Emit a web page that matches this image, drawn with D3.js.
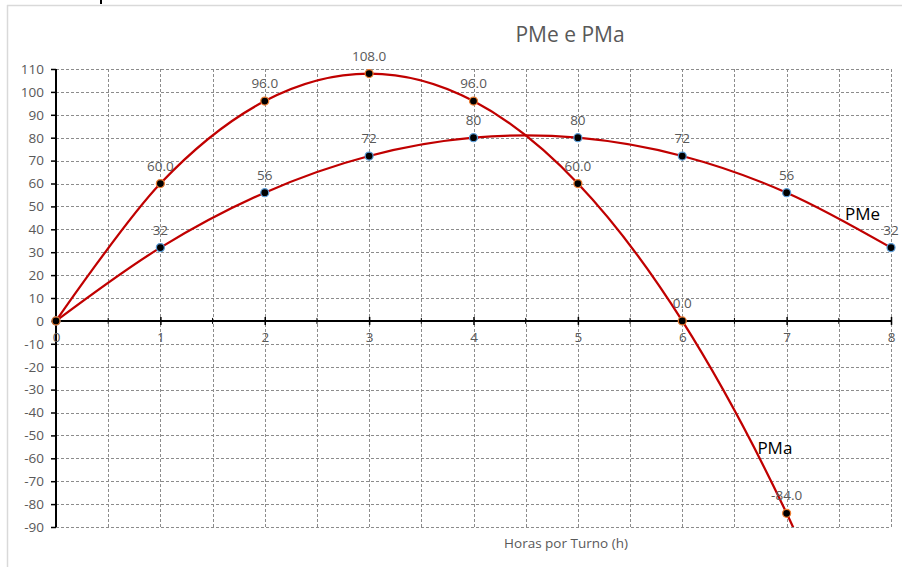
<!DOCTYPE html>
<html>
<head>
<meta charset="utf-8">
<script src="https://cdn.jsdelivr.net/npm/d3@7"></script>
<style>
  body { margin: 0; background: #fff; }
  text { font-family: "Open Sans", "Noto Sans", sans-serif; }
</style>
</head>
<body>
<div id="chart"></div>
<script>
// data
const horas = [0, 1, 2, 3, 4, 5, 6, 7, 8];
const pme = [0, 32, 56, 72, 80, 80, 72, 56, 32];
const pma = [0, 60, 96, 108, 96, 60, 0, -84, -192];
const yTicks = [110, 100, 90, 80, 70, 60, 50, 40, 30, 20, 10, 0, -10, -20, -30, -40, -50, -60, -70, -80, -90];
const xTicks = [0, 1, 2, 3, 4, 5, 6, 7, 8];

const W = 902, H = 567;
const margin = {top: 69, right: 11, bottom: 40, left: 56};
const width = W - margin.left - margin.right;
const height = H - margin.top - margin.bottom;
const grey = '#595959';
const fs = '13.5px';

const svg = d3.select('#chart').append('svg')
  .attr('width', W)
  .attr('height', H);

// chart frame (cut off at the edges)
svg.append('line').attr('x1', 7).attr('x2', W).attr('y1', 5.5).attr('y2', 5.5)
  .attr('stroke', '#d9d9d9').attr('stroke-width', 1.5);
svg.append('line').attr('x1', 7.5).attr('x2', 7.5).attr('y1', 5).attr('y2', H)
  .attr('stroke', '#d9d9d9').attr('stroke-width', 1.5);
svg.append('line').attr('x1', 101).attr('x2', 101).attr('y1', 0).attr('y2', 4)
  .attr('stroke', '#000').attr('stroke-width', 2);

const x = d3.scaleLinear().domain([0, 8]).range([0, width]);
const y = d3.scaleLinear().domain([-90, 110]).range([height, 0]);

const g = svg.append('g').attr('transform', `translate(${margin.left},${margin.top})`);

svg.append('defs').append('clipPath').attr('id', 'plot')
  .append('rect').attr('x', -6).attr('y', -6).attr('width', width + 12).attr('height', height + 6);

// grid
const gridColor = '#8c8c8c';
g.append('g').selectAll('line').data(yTicks).join('line')
  .attr('x1', 0).attr('x2', width)
  .attr('y1', d => Math.round(y(d)) + 0.5).attr('y2', d => Math.round(y(d)) + 0.5)
  .attr('stroke', gridColor).attr('stroke-dasharray', '3,2');
const halfSteps = d3.range(1, 17).map(i => i / 2);
g.append('g').selectAll('line').data(halfSteps).join('line')
  .attr('x1', d => Math.round(x(d)) + 0.5).attr('x2', d => Math.round(x(d)) + 0.5)
  .attr('y1', 0).attr('y2', height)
  .attr('stroke', gridColor).attr('stroke-dasharray', '3,2');

// y axis
const yAxis = g.append('g')
  .call(d3.axisLeft(y).tickValues(yTicks).tickSize(5).tickPadding(7).tickFormat(d => String(d)));
yAxis.select('.domain').attr('stroke', '#000').attr('stroke-width', 2).attr('d', `M0,0V${height}`);
yAxis.selectAll('.tick line').attr('stroke', '#000').attr('stroke-width', 1.5);
yAxis.selectAll('.tick text').attr('fill', grey).style('font-size', fs);

// x axis on the zero line
const xAxis = g.append('g').attr('transform', `translate(0,${y(0)})`)
  .call(d3.axisBottom(x).tickValues(xTicks).tickSize(4).tickPadding(8).tickFormat(d => String(d)));
xAxis.select('.domain').attr('stroke', '#000').attr('stroke-width', 2).attr('d', `M0,0H${width}`);
xAxis.selectAll('.tick line').attr('stroke', '#000').attr('stroke-width', 1.5).attr('y1', -4).attr('y2', 4);
xAxis.selectAll('.tick text').attr('fill', grey).style('font-size', fs);
xAxis.append('g').selectAll('line').data(halfSteps.filter(d => d % 1 !== 0)).join('line')
  .attr('x1', d => x(d)).attr('x2', d => x(d)).attr('y1', -3).attr('y2', 3)
  .attr('stroke', '#000').attr('stroke-width', 1);

// curves
const line = d3.line().curve(d3.curveCardinal.tension(0))
  .x(d => x(d[0])).y(d => y(d[1]));
const lines = g.append('g').attr('clip-path', 'url(#plot)');
const pmeData = horas.map((h, i) => [h, pme[i]]);
const pmaData = horas.map((h, i) => [h, pma[i]]);
lines.append('path').datum(pmeData).attr('d', line)
  .attr('fill', 'none').attr('stroke', '#c00000').attr('stroke-width', 2.25);
lines.append('path').datum(pmaData).attr('d', line)
  .attr('fill', 'none').attr('stroke', '#c00000').attr('stroke-width', 2.25);

// markers and labels
const visible = d => d[1] >= -90 && d[1] <= 110;
lines.append('g').selectAll('circle').data(pmeData.filter(visible)).join('circle')
  .attr('cx', d => x(d[0])).attr('cy', d => y(d[1])).attr('r', 4)
  .attr('fill', '#000').attr('stroke', '#5b9bd5').attr('stroke-width', 1.25);
lines.append('g').selectAll('circle').data(pmaData.filter(visible)).join('circle')
  .attr('cx', d => x(d[0])).attr('cy', d => y(d[1])).attr('r', 4)
  .attr('fill', '#000').attr('stroke', '#ed7d31').attr('stroke-width', 1.25);

g.append('g').selectAll('text').data(pmeData.filter(d => d[0] > 0)).join('text')
  .attr('x', d => x(d[0])).attr('y', d => y(d[1]) - 13)
  .attr('text-anchor', 'middle').attr('fill', grey).style('font-size', fs)
  .text(d => String(d[1]));
g.append('g').selectAll('text').data(pmaData.filter(d => d[0] > 0 && visible(d))).join('text')
  .attr('x', d => x(d[0])).attr('y', d => y(d[1]) - 13)
  .attr('text-anchor', 'middle').attr('fill', grey).style('font-size', fs)
  .text(d => d[1].toFixed(1));

// series names
g.append('text').attr('x', x(7.56)).attr('y', y(44)).attr('fill', '#000')
  .style('font-size', '17px').text('PMe');
g.append('text').attr('x', x(6.72)).attr('y', y(-58)).attr('fill', '#000')
  .style('font-size', '17px').text('PMa');

// titles
svg.append('text').attr('x', 570).attr('y', 42).attr('text-anchor', 'middle')
  .attr('fill', grey).style('font-size', '21px').text('PMe e PMa');
svg.append('text').attr('x', 566).attr('y', 548).attr('text-anchor', 'middle')
  .attr('fill', grey).style('font-size', fs).text('Horas por Turno (h)');
</script>
</body>
</html>
